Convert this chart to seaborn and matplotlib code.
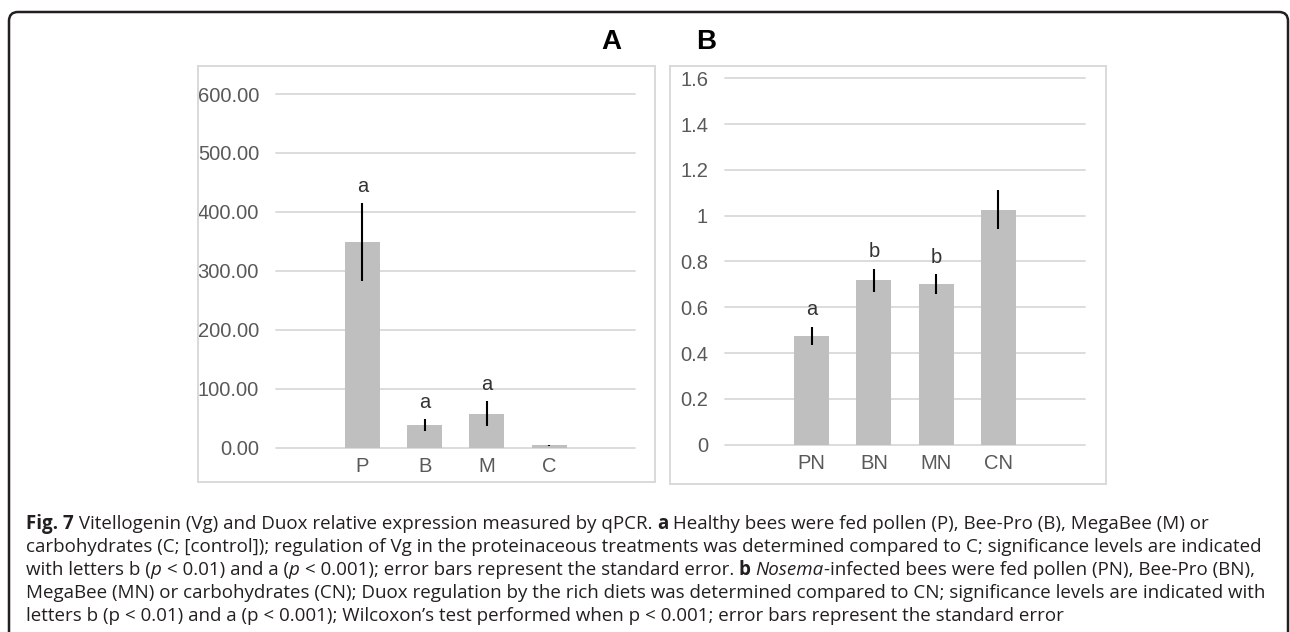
import matplotlib
matplotlib.use("Agg")
import matplotlib.pyplot as plt
import matplotlib.transforms as mtransforms
from matplotlib.patches import Rectangle, FancyBboxPatch
import seaborn as sns
import pandas as pd
import numpy as np

# ---------------- data ----------------
groups_a = ["P", "B", "M", "C"]
vg_mean = [349, 38, 58, 4]
vg_se = [66, 10, 21, 1]
vg_sig = ["a", "a", "a", ""]
yticks_a = [0, 100, 200, 300, 400, 500, 600]

groups_b = ["PN", "BN", "MN", "CN"]
duox_mean = [0.475, 0.718, 0.701, 1.025]
duox_se = [0.040, 0.050, 0.042, 0.085]
duox_sig = ["a", "b", "b", ""]
yticks_b = [0, 0.2, 0.4, 0.6, 0.8, 1.0, 1.2, 1.4, 1.6]

panel_titles = ["A", "B"]

caption_lines = [
    [("Fig. 7", "b"), (" Vitellogenin (Vg) and Duox relative expression measured by qPCR. ", "n"),
     ("a", "b"), (" Healthy bees were fed pollen (P), Bee-Pro (B), MegaBee (M) or", "n")],
    [("carbohydrates (C; [control]); regulation of Vg in the proteinaceous treatments was determined compared to C; significance levels are indicated", "n")],
    [("with letters b (", "n"), ("p", "i"), (" < 0.01) and a (", "n"), ("p", "i"),
     (" < 0.001); error bars represent the standard error. ", "n"), ("b", "b"), (" ", "n"),
     ("Nosema", "i"), ("-infected bees were fed pollen (PN), Bee-Pro (BN),", "n")],
    [("MegaBee (MN) or carbohydrates (CN); Duox regulation by the rich diets was determined compared to CN; significance levels are indicated with", "n")],
    [("letters b (p < 0.01) and a (p < 0.001); Wilcoxon\u2019s test performed when p < 0.001; error bars represent the standard error", "n")],
]

# ---------------- style ----------------
sns.set_style("white")
plt.rcParams["font.family"] = ["Liberation Sans", "DejaVu Sans"]

W, H = 1290, 632
fig = plt.figure(figsize=(W / 100, H / 100), dpi=100)

BAR = "#BFBFBF"
GRID = "#D9D9D9"
TXT = "#595959"


def px_axes(x0, x1, y_top, y_bot):
    return fig.add_axes([x0 / W, 1 - y_bot / H, (x1 - x0) / W, (y_bot - y_top) / H])


def draw_panel(ax, groups, means, ses, sigs, yticks, fmt, xlim):
    df = pd.DataFrame({"group": groups, "value": means})
    sns.barplot(data=df, x="group", y="value", order=groups, color=BAR,
                saturation=1, width=0.56, errorbar=None, ax=ax, zorder=3,
                edgecolor="none")
    x = np.arange(len(groups))
    ax.errorbar(x, means, yerr=ses, fmt="none", ecolor="black",
                elinewidth=1.5, capsize=0, zorder=4)
    for xi, m, s, lab in zip(x, means, ses, sigs):
        if lab:
            ax.annotate(lab, (xi, m + s), xytext=(0, 12.2), textcoords="offset points",
                        ha="center", va="center", fontsize=14.5, color="#333333")
    ax.set_ylim(yticks[0], yticks[-1])
    ax.set_yticks(yticks)
    ax.set_yticklabels([fmt(v) for v in yticks])
    ax.set_xlim(*xlim)
    ax.set_xlabel("")
    ax.set_ylabel("")
    ax.yaxis.grid(True, color=GRID, lw=1.3)
    ax.xaxis.grid(False)
    ax.set_axisbelow(True)
    for gl in ax.get_ygridlines():
        gl.set_clip_on(False)
    for sp in ax.spines.values():
        sp.set_visible(False)
    ax.tick_params(axis="y", length=0, pad=12.2, labelsize=14.5, labelcolor=TXT)
    ax.tick_params(axis="x", length=0, pad=7, labelsize=14.5, labelcolor=TXT)
    ax.patch.set_alpha(0)


axA = px_axes(276, 635, 94, 447.7)
draw_panel(axA, groups_a, vg_mean, vg_se, vg_sig, yticks_a,
           lambda v: f"{v:.2f}", (-1.39, 4.38))

axB = px_axes(725, 1085, 78.3, 444.6)
draw_panel(axB, groups_b, duox_mean, duox_se, duox_sig, yticks_b,
           lambda v: f"{v:g}", (-1.394, 4.394))

# panel frames
for (x0, x1, y0, y1) in [(197.7, 655, 65.7, 482.3), (669.5, 1105.7, 65.7, 484)]:
    fig.add_artist(Rectangle((x0 / W, 1 - y1 / H), (x1 - x0) / W, (y1 - y0) / H,
                             transform=fig.transFigure, fill=False,
                             edgecolor=GRID, lw=1.4))

# panel letters
for lab, xc in zip(panel_titles, [611.7, 705.7]):
    fig.text(xc / W, 1 - 41.7 / H, lab, ha="center", va="center",
             fontsize=20, fontweight="bold", color="black")

# outer rounded border (pixel coordinates)
border = FancyBboxPatch((9, -40), 1279, (H - 12) + 40,
                        boxstyle="round,pad=0,rounding_size=9",
                        transform=mtransforms.IdentityTransform(),
                        fill=False, edgecolor="#231f20", lw=1.8)
fig.add_artist(border)

# ---------------- caption ----------------
renderer = fig.canvas.get_renderer()
CAP_FAMILY = ["Open Sans", "DejaVu Sans"]


def style_kw(st, fs):
    kw = dict(fontfamily=CAP_FAMILY, fontsize=fs, color="#231f20")
    if st == "b":
        kw["fontweight"] = "bold"
    elif st == "i":
        kw["fontstyle"] = "italic"
    return kw


def seg_width(text, st, fs):
    t1 = fig.text(0, 0, "|" + text + "|", **style_kw(st, fs))
    t2 = fig.text(0, 0, "||", **style_kw(st, fs))
    w = t1.get_window_extent(renderer).width - t2.get_window_extent(renderer).width
    t1.remove()
    t2.remove()
    return w


base_fs = 12
line2_w = sum(seg_width(s, st, base_fs) for s, st in caption_lines[1])
cap_fs = base_fs * (1255 - 26) / line2_w

x_start = 26
baselines = [529, 552, 575, 598, 621]
for segs, yb in zip(caption_lines, baselines):
    x = x_start
    for s, st in segs:
        fig.text(x / W, 1 - yb / H, s, ha="left", va="baseline", **style_kw(st, cap_fs))
        x += seg_width(s, st, cap_fs)

fig.savefig("out.png", dpi=100)
